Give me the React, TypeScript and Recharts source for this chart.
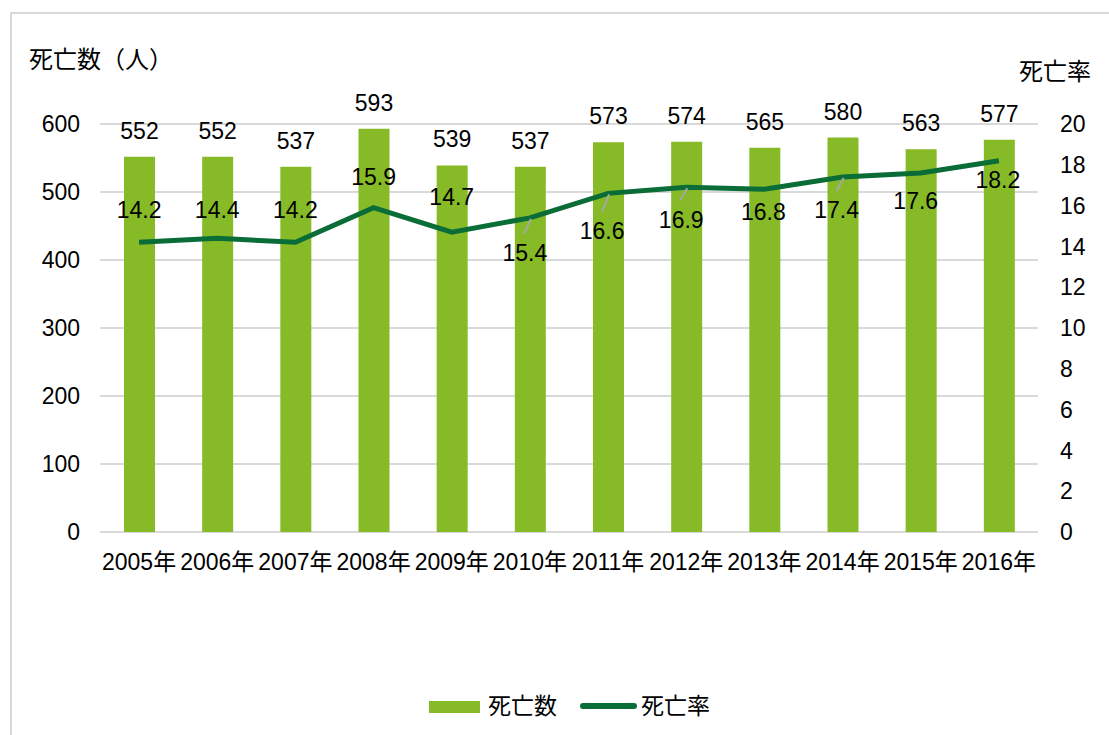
import {
  ComposedChart,
  Bar,
  Line,
  XAxis,
  YAxis,
  CartesianGrid,
  LabelList,
} from 'recharts';

const years = ['2005年', '2006年', '2007年', '2008年', '2009年', '2010年', '2011年', '2012年', '2013年', '2014年', '2015年', '2016年'];
const deaths = [552, 552, 537, 593, 539, 537, 573, 574, 565, 580, 563, 577];
const deathRate = [14.2, 14.4, 14.2, 15.9, 14.7, 15.4, 16.6, 16.9, 16.8, 17.4, 17.6, 18.2];
const leftTicks = [0, 100, 200, 300, 400, 500, 600];
const rightTicks = [0, 2, 4, 6, 8, 10, 12, 14, 16, 18, 20];

const BAR_COLOR = '#86bb27';
const LINE_COLOR = '#0a6d38';
const FONT = '"Liberation Sans", Arial, "Noto Sans CJK JP", sans-serif';

// where each rate label sits relative to its point (Excel-style manual placement)
const labelDy = [-33, -29, -33, -31, -35, 35, 37, 32, 22, 33, 28, 19];
const labelDx = [0, 0, 0, 0, 0, -5, -6, -5, -1, -6, -5, -1];
const withLeader = [5, 6, 7, 9];

const data = years.map((year, i) => ({
  year,
  deaths: deaths[i],
  rate: deathRate[i],
}));

const RateLabel = (props: any) => {
  const { x, y, index, value } = props;
  const cx = x + labelDx[index];
  const cy = y + labelDy[index];
  return (
    <g>
      {withLeader.includes(index) && (
        <line x1={x + 1} y1={y + 1} x2={x - 6} y2={y + labelDy[index] - 19} stroke="#a6a6a6" strokeWidth={2} />
      )}
      <text x={cx} y={cy} dy="0.36em" textAnchor="middle" fontSize={23} fill="#000" fontFamily={FONT}>
        {value}
      </text>
    </g>
  );
};

export default function App() {
  return (
    <div style={{ position: 'absolute', left: 0, top: 0, width: 1109, height: 735, background: '#fff', overflow: 'hidden', fontFamily: FONT }}>
      {/* chart frame: top and left edges visible, runs past the right/bottom of the picture */}
      <div
        style={{
          position: 'absolute',
          left: 10,
          top: 12,
          width: 1200,
          height: 723,
          borderTop: '2px solid #d9d9d9',
          borderLeft: '2px solid #d9d9d9',
          boxSizing: 'border-box',
        }}
      />
      <div style={{ position: 'absolute', left: 29, top: 47, fontSize: 24, lineHeight: '26px', color: '#000' }}>死亡数（人）</div>
      <div style={{ position: 'absolute', left: 1019, top: 59, fontSize: 24, lineHeight: '26px', color: '#000' }}>死亡率</div>

      <div style={{ position: 'absolute', left: 0, top: 0 }}>
        <ComposedChart
          width={1109}
          height={735}
          data={data}
          margin={{ top: 124, right: 11, left: 40, bottom: 173 }}
          style={{ fontFamily: FONT }}
        >
          <CartesianGrid yAxisId="left" vertical={false} stroke="#d9d9d9" strokeWidth={2} />
          <XAxis
            dataKey="year"
            interval={0}
            axisLine={false}
            tickLine={false}
            tickSize={0}
            tickMargin={22}
            height={30}
            tick={{ fontSize: 23, fill: '#000' }}
          />
          <YAxis
            yAxisId="left"
            domain={[0, 600]}
            ticks={leftTicks}
            axisLine={false}
            tickLine={false}
            tickSize={0}
            tickMargin={20}
            width={60}
            tick={{ fontSize: 23, fill: '#000' }}
          />
          <YAxis
            yAxisId="right"
            orientation="right"
            domain={[0, 20]}
            ticks={rightTicks}
            axisLine={false}
            tickLine={false}
            tickSize={0}
            tickMargin={22}
            width={60}
            tick={{ fontSize: 23, fill: '#000' }}
          />
          <Bar yAxisId="left" dataKey="deaths" fill={BAR_COLOR} barSize={31} isAnimationActive={false}>
            <LabelList dataKey="deaths" position="top" offset={18} fontSize={23} fill="#000" />
          </Bar>
          <Line
            yAxisId="right"
            type="linear"
            dataKey="rate"
            stroke={LINE_COLOR}
            strokeWidth={5}
            dot={false}
            isAnimationActive={false}
          >
            <LabelList dataKey="rate" content={RateLabel} />
          </Line>
        </ComposedChart>
      </div>

      {/* legend */}
      <div style={{ position: 'absolute', left: 429, top: 701, width: 51, height: 12, background: BAR_COLOR }} />
      <div style={{ position: 'absolute', left: 488, top: 694, fontSize: 23, lineHeight: '25px', color: '#000' }}>死亡数</div>
      <div style={{ position: 'absolute', left: 580, top: 703, width: 57, height: 6, borderRadius: 3, background: LINE_COLOR }} />
      <div style={{ position: 'absolute', left: 641, top: 694, fontSize: 23, lineHeight: '25px', color: '#000' }}>死亡率</div>
    </div>
  );
}
